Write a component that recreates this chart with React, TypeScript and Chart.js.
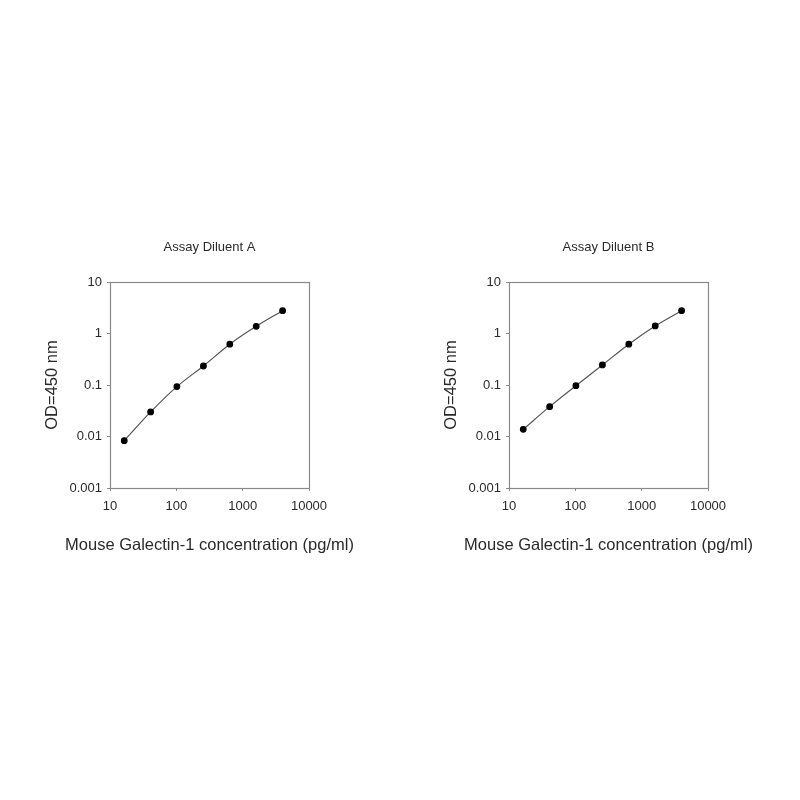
import React, { useEffect, useRef } from "react";
import { Chart, registerables } from "chart.js";

Chart.register(...registerables);

const concentrations = [16.4, 41, 102, 256, 640, 1600, 4000];
const odDiluentA = [0.0083, 0.03, 0.093, 0.234, 0.62, 1.38, 2.77];
const odDiluentB = [0.0138, 0.038, 0.097, 0.245, 0.62, 1.4, 2.77];
const xTicks = [10, 100, 1000, 10000];
const yTicks = [0.001, 0.01, 0.1, 1, 10];
const titles = ["Assay Diluent A", "Assay Diluent B"];
const xTitle = "Mouse Galectin-1 concentration (pg/ml)";
const yTitle = "OD=450 nm";

const FONT = "Arial, 'Liberation Sans', Helvetica, sans-serif";
const TEXT = "#2a2a2a";
const FRAME = "#8a8a8a";

const frame = {
  id: "frame",
  afterDatasetsDraw(chart: any) {
    const { ctx, chartArea } = chart;
    ctx.save();
    ctx.strokeStyle = FRAME;
    ctx.lineWidth = 1.2;
    ctx.strokeRect(
      Math.round(chartArea.left) + 0.5,
      Math.round(chartArea.top) + 0.5,
      Math.round(chartArea.right - chartArea.left),
      Math.round(chartArea.bottom - chartArea.top)
    );
    ctx.restore();
  },
};

function Panel({ title, values, left }: { title: string; values: number[]; left: number }) {
  const ref = useRef<HTMLCanvasElement | null>(null);
  useEffect(() => {
    if (!ref.current) return;
    const chart = new Chart(ref.current, {
      type: "line",
      data: {
        datasets: [
          {
            data: concentrations.map((c, i) => ({ x: c, y: values[i] })),
            borderColor: "#555555",
            borderWidth: 1.2,
            pointBackgroundColor: "#000000",
            pointBorderColor: "#000000",
            pointRadius: 2.8,
            cubicInterpolationMode: "monotone",
            fill: false,
          },
        ],
      },
      options: {
        responsive: false,
        animation: false,
        layout: { padding: 0 },
        plugins: {
          legend: { display: false },
          tooltip: { enabled: false },
          title: {
            display: true,
            text: title,
            color: TEXT,
            font: { family: FONT, size: 13, weight: "normal" },
            padding: { top: 10, bottom: 26.4 },
          },
          subtitle: {
            display: true,
            position: "bottom",
            text: xTitle,
            color: TEXT,
            font: { family: FONT, size: 16.5, weight: "normal" },
            padding: { top: 0, bottom: 5 },
          },
        },
        scales: {
          x: {
            type: "logarithmic",
            min: 10,
            max: 10000,
            afterBuildTicks: (s: any) => {
              s.ticks = xTicks.map((v) => ({ value: v }));
            },
            afterFit: (s: any) => {
              s.height = 47.2;
            },
            ticks: {
              autoSkip: false,
              maxRotation: 0,
              color: TEXT,
              font: { family: FONT, size: 13 },
              padding: 8,
              callback: (v: any) => String(v),
            },
            grid: { display: true, drawOnChartArea: false, drawTicks: true, tickLength: 3, color: FRAME },
            border: { display: false },
          },
          y: {
            type: "logarithmic",
            min: 0.001,
            max: 10,
            afterBuildTicks: (s: any) => {
              s.ticks = yTicks.map((v) => ({ value: v }));
            },
            afterFit: (s: any) => {
              s.width = 70;
            },
            ticks: {
              autoSkip: false,
              color: TEXT,
              font: { family: FONT, size: 13 },
              padding: 5,
              callback: (v: any) => String(v),
            },
            grid: { display: true, drawOnChartArea: false, drawTicks: true, tickLength: 3, color: FRAME },
            border: { display: false },
            title: {
              display: true,
              text: yTitle,
              color: TEXT,
              font: { family: FONT, size: 16.5 },
              padding: { top: 3, bottom: 0 },
            },
          },
          yRight: {
            type: "linear",
            position: "right",
            display: true,
            afterFit: (s: any) => {
              s.width = 70;
            },
            ticks: { display: false },
            grid: { display: false },
            border: { display: false },
          },
        },
      },
      plugins: [frame],
    } as any);
    return () => chart.destroy();
  }, [title, values]);
  return (
    <canvas
      ref={ref}
      width={339}
      height={330}
      style={{ position: "absolute", left, top: 230, width: 339, height: 330 }}
    />
  );
}

export default function App() {
  return (
    <div style={{ position: "absolute", left: 0, top: 0, width: 800, height: 800, background: "#fff" }}>
      <Panel title={titles[0]} values={odDiluentA} left={40} />
      <Panel title={titles[1]} values={odDiluentB} left={439} />
    </div>
  );
}
